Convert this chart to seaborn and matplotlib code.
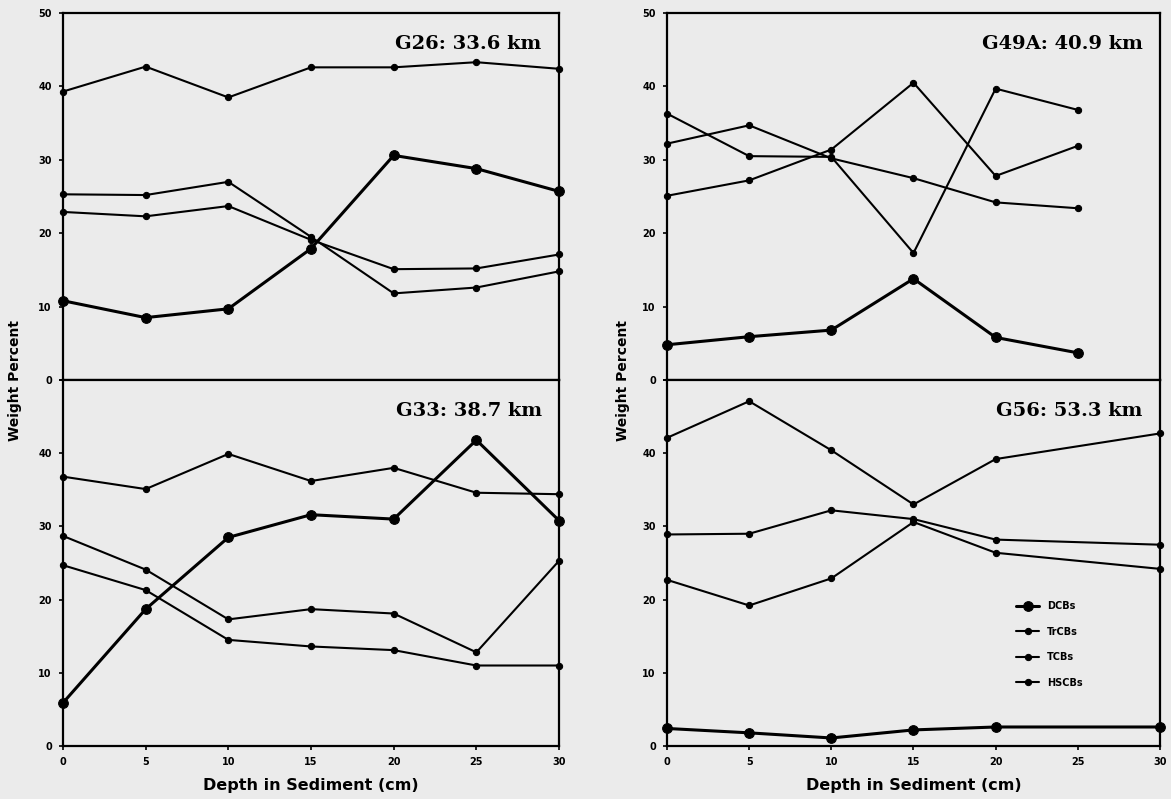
import numpy as np
import pandas as pd
import matplotlib
matplotlib.use('Agg')
import matplotlib.pyplot as plt
import seaborn as sns

# depth in sediment (cm)
depth_full = [0, 5, 10, 15, 20, 25, 30]
depth_g49a = [0, 5, 10, 15, 20, 25]
depth_g56 = [0, 5, 10, 15, 20, 30]

homologs = ['DCBs', 'TrCBs', 'TCBs', 'HSCBs']

# weight percent per homolog group
g26_dcbs = [10.8, 8.5, 9.7, 17.9, 30.6, 28.8, 25.7]
g26_trcbs = [39.3, 42.7, 38.5, 42.6, 42.6, 43.3, 42.4]
g26_tcbs = [25.3, 25.2, 27.0, 19.5, 11.8, 12.6, 14.8]
g26_hscbs = [22.9, 22.3, 23.7, 19.1, 15.1, 15.2, 17.1]

g49a_dcbs = [4.8, 5.9, 6.8, 13.8, 5.8, 3.7]
g49a_trcbs = [36.3, 30.5, 30.4, 17.3, 39.7, 36.8]
g49a_tcbs = [32.2, 34.7, 30.2, 27.5, 24.2, 23.4]
g49a_hscbs = [25.1, 27.2, 31.4, 40.5, 27.8, 31.9]

g33_dcbs = [5.9, 18.7, 28.5, 31.6, 31.0, 41.8, 30.8]
g33_trcbs = [36.8, 35.1, 39.9, 36.2, 38.0, 34.6, 34.4]
g33_tcbs = [28.7, 24.1, 17.3, 18.7, 18.1, 12.8, 25.3]
g33_hscbs = [24.7, 21.3, 14.5, 13.6, 13.1, 11.0, 11.0]

g56_dcbs = [2.4, 1.8, 1.1, 2.2, 2.6, 2.6]
g56_trcbs = [42.1, 47.1, 40.4, 33.0, 39.2, 42.7]
g56_tcbs = [28.9, 29.0, 32.2, 31.0, 28.2, 27.5]
g56_hscbs = [22.7, 19.2, 22.9, 30.6, 26.4, 24.2]

panels = [
    ('G26: 33.6 km', depth_full, [g26_dcbs, g26_trcbs, g26_tcbs, g26_hscbs]),
    ('G49A: 40.9 km', depth_g49a, [g49a_dcbs, g49a_trcbs, g49a_tcbs, g49a_hscbs]),
    ('G33: 38.7 km', depth_full, [g33_dcbs, g33_trcbs, g33_tcbs, g33_hscbs]),
    ('G56: 53.3 km', depth_g56, [g56_dcbs, g56_trcbs, g56_tcbs, g56_hscbs]),
]

paper = '#ebebeb'
sns.set_style('ticks', {'axes.facecolor': paper, 'figure.facecolor': paper})
plt.rcParams['font.family'] = ['DejaVu Sans']
plt.rcParams['text.color'] = 'black'
plt.rcParams['xtick.color'] = 'black'
plt.rcParams['ytick.color'] = 'black'
plt.rcParams['axes.labelcolor'] = 'black'

fig = plt.figure(figsize=(11.71, 7.99), dpi=100)
fig.patch.set_facecolor(paper)

# axes boxes in figure fractions (left, bottom, width, height)
boxes = [
    (0.0538, 0.5244, 0.4236, 0.4593),
    (0.5696, 0.5244, 0.4210, 0.4593),
    (0.0538, 0.0663, 0.4236, 0.4581),
    (0.5696, 0.0663, 0.4210, 0.4581),
]

for i, (title, depth, series) in enumerate(panels):
    ax = fig.add_axes(boxes[i])
    ax.set_facecolor(paper)
    for name, vals in zip(homologs, series):
        df = pd.DataFrame({'depth': depth, 'pct': vals})
        bold = name == 'DCBs'
        sns.lineplot(data=df, x='depth', y='pct', ax=ax, color='black',
                     marker='o', markersize=7 if bold else 4.5,
                     linewidth=2.2 if bold else 1.5,
                     markeredgecolor='black', label=name, clip_on=False,
                     zorder=3)
    ax.set_xlim(0, 30)
    ax.set_ylim(0, 50)
    ax.set_xticks([0, 5, 10, 15, 20, 25, 30])
    ax.set_yticks([0, 10, 20, 30, 40, 50])
    if i >= 2:
        ax.set_yticklabels(['0', '10', '20', '30', '40', ''])
    else:
        ax.set_xticklabels([])
    ax.set_xlabel('')
    ax.set_ylabel('')
    ax.tick_params(axis='both', direction='out', length=3, width=1.2,
                   labelsize=7, pad=5, colors='black')
    for lab in ax.get_xticklabels() + ax.get_yticklabels():
        lab.set_fontweight('bold')
    for sp in ax.spines.values():
        sp.set_visible(True)
        sp.set_linewidth(1.6)
        sp.set_color('black')
    ax.text(0.965, 0.915, title, transform=ax.transAxes, ha='right',
            va='center', fontsize=14, fontweight='bold', family='DejaVu Serif',
            color='black')
    if i == 3:
        leg = ax.legend(loc='upper left', bbox_to_anchor=(0.69, 0.42),
                        frameon=False, fontsize=7, handlelength=2.4,
                        labelspacing=1.6, handletextpad=0.8)
        for t in leg.get_texts():
            t.set_fontweight('bold')
            t.set_color('black')
    else:
        ax.get_legend().remove()

# shared axis labels
for xpos in (0.013, 0.532):
    fig.text(xpos, 0.5244, 'Weight Percent', rotation=90, ha='center',
             va='center', fontsize=10, fontweight='bold')
for xpos in (0.2656, 0.7801):
    fig.text(xpos, 0.017, 'Depth in Sediment (cm)', ha='center', va='center',
             fontsize=11.5, fontweight='bold')

plt.savefig('out.png', dpi=100, facecolor=paper)
